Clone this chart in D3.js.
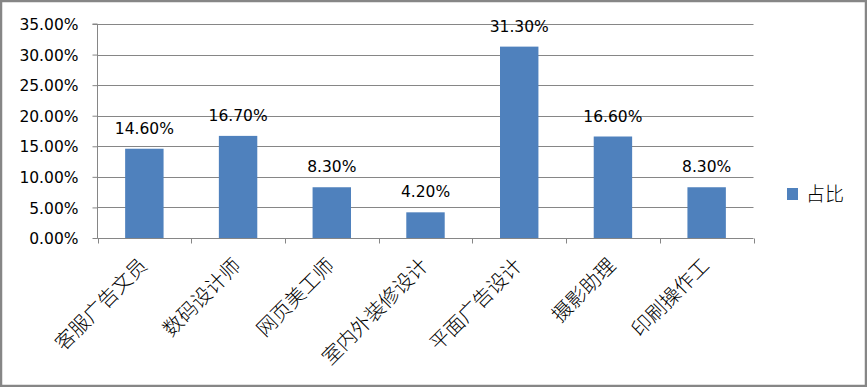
<!DOCTYPE html>
<html>
<head>
<meta charset="utf-8">
<script src="https://cdn.jsdelivr.net/npm/d3@7"></script>
<style>
  body { margin: 0; background: #fff; }
  svg { display: block; }
</style>
</head>
<body>
<div id="chart"></div>
<script>
const categories = ["客服广告文员", "数码设计师", "网页美工师", "室内外装修设计", "平面广告设计", "摄影助理", "印刷操作工"];
const shares = [14.6, 16.7, 8.3, 4.2, 31.3, 16.6, 8.3]; // 占比 (%)
const yTicks = [0, 5, 10, 15, 20, 25, 30, 35];
const seriesName = "占比";

function init() {
    var w = 867;
    var h = 387;
    var left = 97.5, right = 753.5, top = 24, bottom = 238;

    var svg = d3.select("#chart")
        .append("svg")
        .attr("width", w)
        .attr("height", h);

    // outer frame
    svg.append("rect")
        .attr("x", 1).attr("y", 1)
        .attr("width", w - 2).attr("height", h - 2)
        .attr("fill", "#fff")
        .attr("stroke", "#868686")
        .attr("stroke-width", 2.5);

    var xScale = d3.scaleBand()
        .domain(categories)
        .range([left, right])
        .paddingInner(0.59)
        .paddingOuter(0.295);

    var xBand = d3.scaleBand() // for the category ticks
        .domain(categories)
        .range([left, right]);

    var yScale = d3.scaleLinear()
        .domain([0, 35])
        .range([bottom, top]);

    // gridlines
    svg.append("g")
        .selectAll("line")
        .data(yTicks.slice(1))
        .enter()
        .append("line")
        .attr("x1", left).attr("x2", right)
        .attr("y1", d => Math.round(yScale(d)) + 0.5)
        .attr("y2", d => Math.round(yScale(d)) + 0.5)
        .attr("stroke", "#868686")
        .attr("stroke-width", 1);

    // y axis
    var yAxis = d3.axisLeft(yScale)
        .tickValues(yTicks)
        .tickFormat(d => d.toFixed(2) + "%")
        .tickSize(5)
        .tickPadding(14);

    var gy = svg.append("g")
        .attr("transform", "translate(" + left + ",0)")
        .call(yAxis);
    gy.select(".domain").attr("stroke", "#868686").attr("d", "M-5," + top + "H0V" + (bottom + 0.5));
    gy.selectAll(".tick line").attr("stroke", "#868686");
    gy.selectAll(".tick text")
        .attr("fill", "#000")
        .style("font-family", "'DejaVu Sans', sans-serif")
        .style("font-size", "15.5px")
        .attr("dy", "0.36em");

    // bars
    svg.selectAll("rect.bar")
        .data(shares)
        .enter()
        .append("rect")
        .attr("class", "bar")
        .attr("x", (d, i) => xScale(categories[i]))
        .attr("y", d => yScale(d))
        .attr("width", xScale.bandwidth())
        .attr("height", d => bottom - yScale(d))
        .style("fill", "#4f81bd");

    // x axis
    var xAxis = d3.axisBottom(xBand)
        .tickSize(5)
        .tickFormat("");
    var gx = svg.append("g")
        .attr("transform", "translate(0," + (bottom + 0.5) + ")")
        .call(xAxis);
    gx.select(".domain").attr("stroke", "#868686").attr("d", "M" + left + ",0H" + right);
    gx.selectAll(".tick").remove();
    gx.selectAll("line.sep")
        .data(d3.range(categories.length + 1))
        .enter()
        .append("line")
        .attr("class", "sep")
        .attr("x1", i => Math.round(left + i * xBand.step()) + 0.5)
        .attr("x2", i => Math.round(left + i * xBand.step()) + 0.5)
        .attr("y1", 0).attr("y2", 5)
        .attr("stroke", "#868686");

    // category labels, rotated
    svg.selectAll("text.cat")
        .data(categories)
        .enter()
        .append("text")
        .attr("class", "cat")
        .attr("transform", d => "translate(" + (xBand(d) + xBand.bandwidth() / 2 - 1) + "," + (bottom + 24) + ") rotate(-45)")
        .attr("text-anchor", "end")
        .attr("dy", "0.35em")
        .style("font-family", "'Noto Sans CJK SC', sans-serif")
        .style("font-size", "20px")
        .style("font-weight", "300")
        .text(d => d);

    // data labels
    svg.selectAll("text.val")
        .data(shares)
        .enter()
        .append("text")
        .attr("class", "val")
        .attr("x", (d, i) => xScale(categories[i]) + xScale.bandwidth() / 2)
        .attr("y", d => yScale(d) - 15)
        .attr("text-anchor", "middle")
        .style("font-family", "'DejaVu Sans', sans-serif")
        .style("font-size", "15.5px")
        .text(d => d.toFixed(2) + "%");

    // legend
    var legend = svg.append("g").attr("transform", "translate(787,188)");
    legend.append("rect")
        .attr("width", 11).attr("height", 12)
        .style("fill", "#4f81bd");
    legend.append("text")
        .attr("x", 19).attr("y", 6)
        .attr("dy", "0.36em")
        .style("font-family", "'Noto Sans CJK SC', sans-serif")
        .style("font-size", "19px")
        .style("font-weight", "300")
        .text(seriesName);
}

window.onload = init;
</script>
</body>
</html>
